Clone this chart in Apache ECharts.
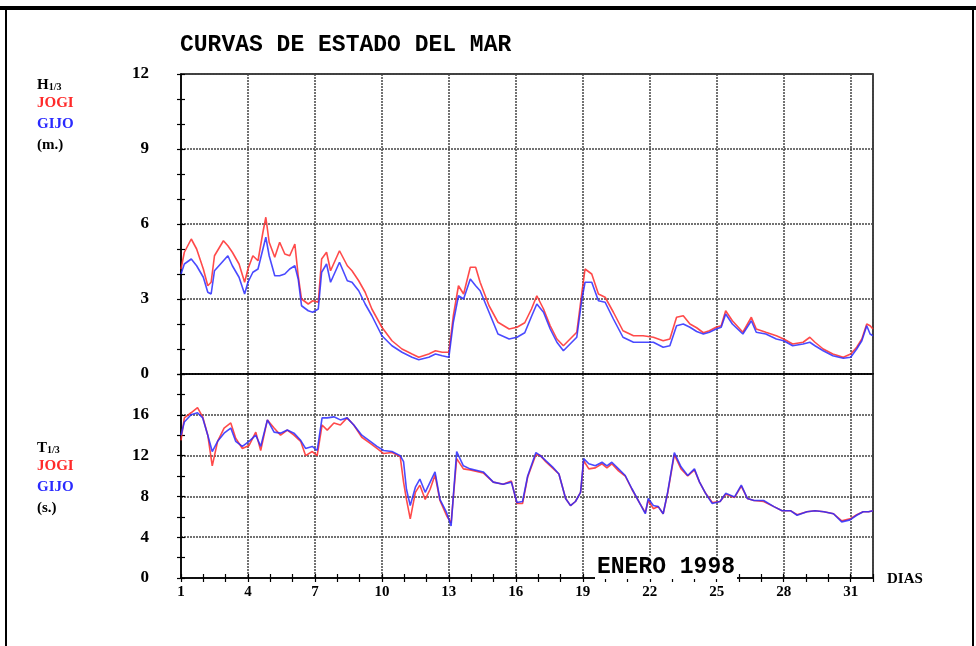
<!DOCTYPE html>
<html>
<head>
<meta charset="utf-8">
<script src="https://cdn.jsdelivr.net/npm/echarts@6/dist/echarts.min.js"></script>
<style>
html,body{margin:0;padding:0;background:#fff;}
#chart{width:976px;height:646px;}
</style>
</head>
<body>
<div id="chart"></div>
<script>
// ---- Data ----
var dayTicks = ['1','4','7','10','13','16','19','22','25','28','31'];
var hsTickLabels = [0, 3, 6, 9, 12];
var tzTickLabels = [0, 4, 8, 12, 16];

var topDays = [
 1.0, 1.15, 1.46, 1.7, 2.0, 2.2, 2.35, 2.5, 2.9, 3.1,
 3.3, 3.6, 3.85, 4.0, 4.22, 4.45, 4.67, 4.8, 4.95, 5.2,
 5.42, 5.65, 5.87, 6.1, 6.25, 6.4, 6.7, 6.9, 7.15, 7.3,
 7.52, 7.7, 8.1, 8.45, 8.66, 8.96, 9.25, 9.55, 10.0, 10.45,
 10.9, 11.35, 11.65, 12.1, 12.4, 12.7, 13.0, 13.2, 13.43, 13.66,
 13.96, 14.2, 14.4, 14.8, 15.2, 15.7, 16.05, 16.4, 16.7, 16.94,
 17.24, 17.54, 17.84, 18.13, 18.43, 18.73, 18.96, 19.1, 19.4, 19.7,
 20.0, 20.37, 20.8, 21.27, 21.7, 22.16, 22.6, 22.9, 23.2, 23.5,
 23.8, 24.1, 24.4, 24.67, 24.97, 25.2, 25.4, 25.7, 26.17, 26.55,
 26.77, 27.2, 27.67, 28.0, 28.4, 28.87, 29.17, 29.4, 29.77, 30.2,
 30.67, 31.0, 31.27, 31.5, 31.72, 31.87, 32.0
];
var hsJogi = [
 4.2, 4.87, 5.4, 5.0, 4.2, 3.53, 3.67, 4.73, 5.33, 5.13,
 4.87, 4.4, 3.67, 4.2, 4.73, 4.53, 5.67, 6.27, 5.27, 4.67,
 5.27, 4.8, 4.73, 5.2, 3.93, 3.0, 2.8, 2.93, 2.87, 4.6,
 4.87, 4.13, 4.93, 4.33, 4.13, 3.73, 3.27, 2.6, 1.87, 1.33,
 1.0, 0.8, 0.67, 0.8, 0.93, 0.87, 0.87, 2.33, 3.53, 3.2,
 4.27, 4.27, 3.67, 2.73, 2.07, 1.8, 1.87, 2.05, 2.6, 3.13,
 2.6, 1.93, 1.4, 1.13, 1.4, 1.67, 3.27, 4.2, 4.0, 3.2,
 3.07, 2.47, 1.73, 1.53, 1.53, 1.47, 1.33, 1.4, 2.27, 2.33,
 2.0, 1.85, 1.65, 1.73, 1.87, 1.93, 2.53, 2.13, 1.67, 2.27,
 1.8, 1.67, 1.53, 1.4, 1.2, 1.27, 1.47, 1.27, 1.0, 0.8,
 0.67, 0.8, 1.07, 1.4, 2.0, 1.93, 1.8
];
var hsGijo = [
 4.0, 4.4, 4.6, 4.33, 3.87, 3.27, 3.2, 4.13, 4.53, 4.73,
 4.33, 3.87, 3.2, 3.67, 4.07, 4.2, 5.0, 5.47, 4.73, 3.93,
 3.93, 4.0, 4.2, 4.33, 3.8, 2.73, 2.53, 2.47, 2.6, 4.07,
 4.4, 3.67, 4.47, 3.73, 3.67, 3.33, 2.8, 2.33, 1.53, 1.13,
 0.87, 0.67, 0.57, 0.67, 0.8, 0.73, 0.67, 2.07, 3.13, 3.0,
 3.8, 3.53, 3.33, 2.47, 1.6, 1.4, 1.47, 1.65, 2.3, 2.8,
 2.47, 1.8, 1.27, 0.93, 1.2, 1.47, 3.0, 3.67, 3.67, 2.93,
 2.87, 2.2, 1.47, 1.27, 1.27, 1.27, 1.07, 1.13, 1.93, 2.0,
 1.87, 1.7, 1.6, 1.67, 1.8, 1.87, 2.4, 2.0, 1.6, 2.13,
 1.67, 1.6, 1.4, 1.33, 1.13, 1.2, 1.27, 1.13, 0.93, 0.73,
 0.63, 0.67, 1.0, 1.33, 1.93, 1.6, 1.53
];

var botDays = [
 1.0, 1.15, 1.45, 1.74, 1.97, 2.2, 2.4, 2.64, 2.93, 3.23,
 3.45, 3.75, 4.05, 4.35, 4.57, 4.87, 5.17, 5.46, 5.76, 6.06,
 6.36, 6.58, 6.88, 7.1, 7.32, 7.55, 7.85, 8.14, 8.44, 8.74,
 9.1, 9.48, 9.78, 10.08, 10.45, 10.82, 10.97, 11.1, 11.27, 11.5,
 11.7, 11.94, 12.16, 12.38, 12.6, 12.9, 13.1, 13.35, 13.65, 13.95,
 14.54, 14.99, 15.43, 15.8, 16.05, 16.3, 16.53, 16.9, 17.1, 17.34,
 17.64, 17.93, 18.23, 18.45, 18.67, 18.9, 19.04, 19.27, 19.56, 19.86,
 20.08, 20.3, 20.6, 20.9, 21.2, 21.56, 21.8, 21.93, 22.16, 22.38,
 22.6, 22.8, 23.1, 23.4, 23.7, 24.0, 24.23, 24.5, 24.8, 25.15,
 25.4, 25.8, 26.1, 26.37, 26.67, 27.1, 27.56, 27.93, 28.3, 28.6,
 29.04, 29.4, 29.8, 30.23, 30.6, 30.97, 31.27, 31.56, 31.8, 32.0
];
var tzJogi = [
 13.5, 15.7, 16.2, 16.7, 15.8, 14.0, 11.0, 13.4, 14.7, 15.2,
 13.7, 12.7, 13.0, 14.3, 12.5, 15.5, 14.7, 14.0, 14.5, 14.0,
 13.4, 12.0, 12.4, 12.0, 15.0, 14.5, 15.2, 15.0, 15.7, 15.0,
 13.8, 13.2, 12.7, 12.2, 12.3, 11.9, 9.4, 7.7, 5.8, 8.4,
 9.1, 7.7, 8.7, 10.1, 7.6, 6.1, 5.4, 11.7, 10.7, 10.6,
 10.3, 9.4, 9.2, 9.5, 7.3, 7.3, 9.9, 12.1, 12.0, 11.4,
 10.8, 10.2, 7.8, 7.1, 7.5, 8.4, 11.5, 10.7, 10.8, 11.2,
 10.8, 11.2, 10.5, 10.0, 8.7, 7.3, 6.4, 7.6, 6.8, 7.0,
 6.3, 8.3, 12.1, 10.7, 10.0, 10.6, 9.4, 8.3, 7.4, 7.5,
 8.2, 7.9, 9.0, 7.8, 7.6, 7.5, 7.0, 6.6, 6.6, 6.2,
 6.5, 6.6, 6.5, 6.3, 5.6, 5.8, 6.2, 6.5, 6.5, 6.6
];
var tzGijo = [
 14.0, 15.3, 16.0, 16.2, 15.7, 14.0, 12.4, 13.4, 14.2, 14.7,
 13.4, 12.9, 13.4, 14.0, 12.9, 15.5, 14.3, 14.2, 14.5, 14.2,
 13.5, 12.7, 12.9, 12.5, 15.7, 15.7, 15.8, 15.5, 15.7, 15.0,
 14.0, 13.4, 12.9, 12.5, 12.4, 12.0, 11.4, 8.7, 7.1, 8.9,
 9.7, 8.4, 9.4, 10.4, 7.7, 6.4, 5.1, 12.4, 11.0, 10.7,
 10.4, 9.4, 9.2, 9.4, 7.4, 7.5, 10.0, 12.3, 12.0, 11.5,
 10.9, 10.2, 7.8, 7.1, 7.5, 8.4, 11.7, 11.2, 11.0, 11.35,
 11.0, 11.35, 10.7, 10.05, 8.75, 7.3, 6.3, 7.8, 7.1, 7.0,
 6.3, 8.4, 12.3, 10.9, 10.05, 10.7, 9.4, 8.3, 7.3, 7.5,
 8.3, 7.95, 9.1, 7.8, 7.6, 7.6, 7.0, 6.6, 6.6, 6.15,
 6.5, 6.6, 6.5, 6.3, 5.5, 5.7, 6.15, 6.5, 6.5, 6.6
];

// ---- Build chart ----
function pairs(days, vals) {
  var out = [];
  for (var i = 0; i < days.length && i < vals.length; i++) out.push([days[i] - 1, vals[i]]);
  return out;
}
var SERIF = '"Liberation Serif", "DejaVu Serif", serif';
var MONO = '"Liberation Mono", "DejaVu Sans Mono", monospace';
var RED = '#ff2a2a', BLUE = '#2a2aff';
var gridLine = {show: true, lineStyle: {color: '#444', width: 1.5, type: [2, 1]}};

function tickAxis(gridIndex, min, max, interval, inside, isY) {
  var a = {
    type: 'value', gridIndex: gridIndex, min: min, max: max, interval: interval,
    axisLine: {show: false}, axisLabel: {show: false}, splitLine: {show: false},
    axisTick: {show: true, inside: inside, length: 4, lineStyle: {color: '#000', width: 1.2}}
  };
  if (isY) a.position = 'left'; else a.position = 'bottom';
  return a;
}

var chart = echarts.init(document.getElementById('chart'), null, {renderer: 'canvas'});
var option = {
  backgroundColor: '#fff',
  animation: false,
  grid: [
    {left: 181, top: 74, width: 692, height: 300, show: true, borderColor: '#000', borderWidth: 1.5, backgroundColor: 'transparent'},
    {left: 181, top: 374, width: 692, height: 204, show: true, borderColor: '#000', borderWidth: 1.5, backgroundColor: 'transparent'}
  ],
  xAxis: [
    {type: 'value', gridIndex: 0, min: 0, max: 31, interval: 3,
     axisLine: {show: true, lineStyle: {color: '#000', width: 1.5}},
     axisTick: {show: false}, axisLabel: {show: false}, splitLine: gridLine},
    {type: 'value', gridIndex: 1, min: 0, max: 31, interval: 3,
     axisLine: {show: true, lineStyle: {color: '#000', width: 1.5}},
     axisTick: {show: false},
     axisLabel: {show: true, margin: 7, color: '#000', fontFamily: SERIF, fontWeight: 'bold', fontSize: 15,
       formatter: function (v) { var i = Math.round(v / 3); return (v <= 30 && dayTicks[i]) ? dayTicks[i] : ''; }},
     splitLine: gridLine},
    tickAxis(1, 0, 31, 1, false, false),
    tickAxis(1, 0, 31, 1, true, false)
  ],
  yAxis: [
    {type: 'value', gridIndex: 0, min: 0, max: 12, interval: 3,
     axisLine: {show: true, lineStyle: {color: '#000', width: 1.5}},
     axisTick: {show: false},
     axisLabel: {show: true, margin: 32, color: '#000', fontFamily: SERIF, fontWeight: 'bold', fontSize: 17,
       formatter: function (v) { return hsTickLabels.indexOf(v) >= 0 ? String(v) : ''; }},
     splitLine: gridLine},
    tickAxis(0, 0, 12, 1, false, true),
    tickAxis(0, 0, 12, 1, true, true),
    {type: 'value', gridIndex: 1, min: 0, max: 20, interval: 4,
     axisLine: {show: true, lineStyle: {color: '#000', width: 1.5}},
     axisTick: {show: false},
     axisLabel: {show: true, margin: 32, color: '#000', fontFamily: SERIF, fontWeight: 'bold', fontSize: 17,
       formatter: function (v) { return tzTickLabels.indexOf(v) >= 0 ? String(v) : ''; }},
     splitLine: gridLine},
    tickAxis(1, 0, 20, 2, false, true),
    tickAxis(1, 0, 20, 2, true, true)
  ],
  series: [
    {name: 'JOGI Hs', type: 'line', xAxisIndex: 0, yAxisIndex: 0, data: pairs(topDays, hsJogi),
     showSymbol: false, lineStyle: {color: RED, width: 1.6, opacity: 0.85}, z: 3},
    {name: 'GIJO Hs', type: 'line', xAxisIndex: 0, yAxisIndex: 0, data: pairs(topDays, hsGijo),
     showSymbol: false, lineStyle: {color: BLUE, width: 1.6, opacity: 0.85}, z: 4},
    {name: 'JOGI Tz', type: 'line', xAxisIndex: 1, yAxisIndex: 3, data: pairs(botDays, tzJogi),
     showSymbol: false, lineStyle: {color: RED, width: 1.6, opacity: 0.85}, z: 3},
    {name: 'GIJO Tz', type: 'line', xAxisIndex: 1, yAxisIndex: 3, data: pairs(botDays, tzGijo),
     showSymbol: false, lineStyle: {color: BLUE, width: 1.6, opacity: 0.85}, z: 4}
  ],
  graphic: [
    {type: 'line', shape: {x1: 0, y1: 8, x2: 976, y2: 8}, style: {stroke: '#000', lineWidth: 4}, z: 100},
    {type: 'line', shape: {x1: 6, y1: 8, x2: 6, y2: 646}, style: {stroke: '#000', lineWidth: 2}, z: 100},
    {type: 'line', shape: {x1: 973, y1: 8, x2: 973, y2: 646}, style: {stroke: '#000', lineWidth: 2}, z: 100},
    {type: 'text', left: 180, top: 34, z: 100,
     style: {text: 'CURVAS DE ESTADO DEL MAR', fill: '#000', font: 'bold 23px ' + MONO}},
    {type: 'text', left: 595, top: 556, z: 100,
     style: {text: 'ENERO 1998', fill: '#000', font: 'bold 23px ' + MONO,
             backgroundColor: '#fff', padding: [0, 2, 0, 2]}},
    {type: 'text', left: 887, top: 572, z: 100,
     style: {text: 'DIAS', fill: '#000', font: 'bold 15px ' + SERIF}},
    {type: 'text', left: 37, top: 78, z: 100,
     style: {text: '{b|H}{s|1/3}', rich: {b: {fontFamily: SERIF, fontWeight: 'bold', fontSize: 15, fill: '#000'},
                                          s: {fontFamily: SERIF, fontWeight: 'bold', fontSize: 10, fill: '#000', padding: [4, 0, 0, 0]}}}},
    {type: 'text', left: 37, top: 96, z: 100, style: {text: 'JOGI', fill: RED, font: 'bold 15px ' + SERIF}},
    {type: 'text', left: 37, top: 117, z: 100, style: {text: 'GIJO', fill: BLUE, font: 'bold 15px ' + SERIF}},
    {type: 'text', left: 37, top: 138, z: 100, style: {text: '(m.)', fill: '#000', font: 'bold 15px ' + SERIF}},
    {type: 'text', left: 37, top: 441, z: 100,
     style: {text: '{b|T}{s|1/3}', rich: {b: {fontFamily: SERIF, fontWeight: 'bold', fontSize: 15, fill: '#000'},
                                          s: {fontFamily: SERIF, fontWeight: 'bold', fontSize: 10, fill: '#000', padding: [4, 0, 0, 0]}}}},
    {type: 'text', left: 37, top: 459, z: 100, style: {text: 'JOGI', fill: RED, font: 'bold 15px ' + SERIF}},
    {type: 'text', left: 37, top: 480, z: 100, style: {text: 'GIJO', fill: BLUE, font: 'bold 15px ' + SERIF}},
    {type: 'text', left: 37, top: 501, z: 100, style: {text: '(s.)', fill: '#000', font: 'bold 15px ' + SERIF}}
  ]
};
chart.setOption(option);
</script>
</body>
</html>
